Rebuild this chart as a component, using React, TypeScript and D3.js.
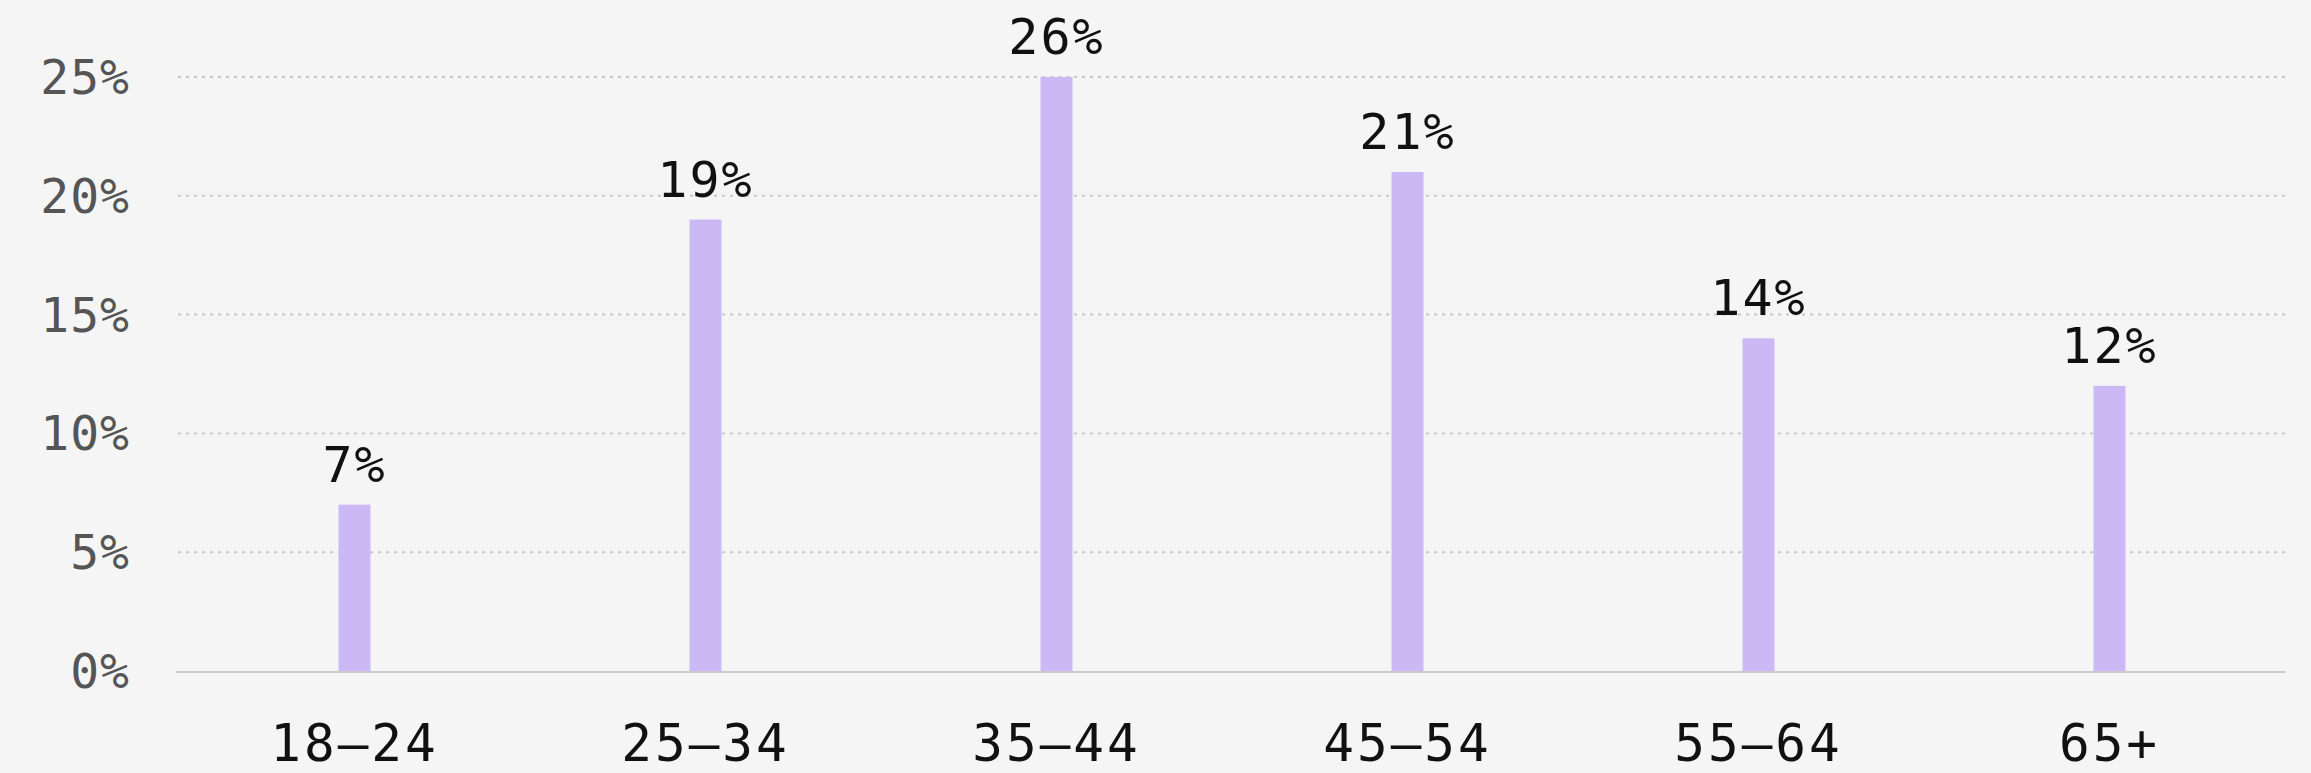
import React from "react";
import * as d3 from "d3";

const categories = ["18–24", "25–34", "35–44", "45–54", "55–64", "65+"];
const values = [7, 19, 26, 21, 14, 12];
const yTicks = [0, 5, 10, 15, 20, 25];

const W = 2311;
const H = 773;
const FONT = "'DejaVu Sans Mono', monospace";

export default function App() {
  const x = d3.scaleBand<string>().domain(categories).range([179, 2285]).padding(0);
  const y = d3.scaleLinear().domain([0, 25]).range([671, 77]).clamp(true);
  const barW = 32;

  return (
    <div style={{ position: "fixed", left: 0, top: 0, width: W, height: H, background: "#f5f5f5" }}>
      <svg width={W} height={H} style={{ display: "block" }}>
        <rect x={0} y={0} width={W} height={H} fill="#f5f5f5" />
        {yTicks.filter((t) => t > 0).map((t) => (
          <line
            key={"g" + t}
            x1={178}
            x2={2285}
            y1={y(t)}
            y2={y(t)}
            stroke="#c4c8c8"
            strokeWidth={2}
            strokeDasharray="3 5"
          />
        ))}
        {yTicks.map((t) => (
          <text
            key={"t" + t}
            x={130}
            y={y(t) + 17}
            textAnchor="end"
            fontFamily={FONT}
            fontSize={48}
            fill="#555555"
            letterSpacing={1}
          >
            {t + "%"}
          </text>
        ))}
        {categories.map((c, i) => {
          const cx = (x(c) as number) + x.bandwidth() / 2;
          const top = y(values[i]);
          return (
            <g key={c}>
              <rect x={cx - barW / 2} y={top} width={barW} height={y(0) - top} fill="#cbb8f5" />
              <text
                x={cx}
                y={top - 23}
                textAnchor="middle"
                fontFamily={FONT}
                fontSize={50}
                fill="#111111"
                letterSpacing={2}
              >
                {values[i] + "%"}
              </text>
              <text
                x={cx}
                y={761}
                textAnchor="middle"
                fontFamily={FONT}
                fontSize={51}
                fill="#111111"
                letterSpacing={3}
              >
                {c}
              </text>
            </g>
          );
        })}
        <line x1={176} x2={2285} y1={y(0) + 1} y2={y(0) + 1} stroke="#c9cccc" strokeWidth={2} />
      </svg>
    </div>
  );
}
